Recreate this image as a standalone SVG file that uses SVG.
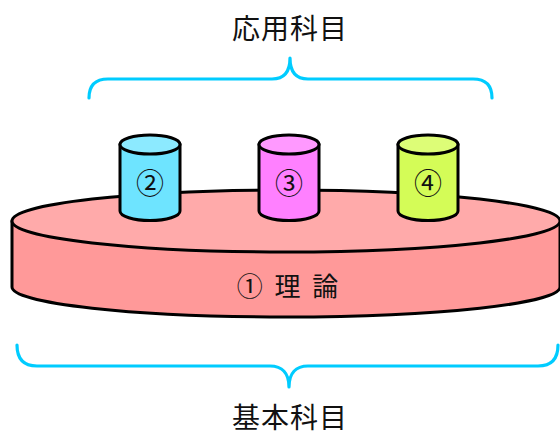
<svg xmlns="http://www.w3.org/2000/svg" width="560" height="438" viewBox="0 0 560 438">
  <style>
    .outline { stroke: #000; stroke-width: 3; stroke-linejoin: round; }
    .brace { fill: none; stroke: #00ccff; stroke-width: 3.2; stroke-linecap: round; stroke-linejoin: round; }
    .label { font-family: "Noto Sans CJK JP", "DejaVu Sans", sans-serif; fill: #111; text-anchor: middle; }
  </style>
  <rect width="560" height="438" fill="#fff"/>

  <!-- connectors: the two curly braces -->
  <g id="connectors">
    <path class="brace" d="M89,98 C89,86 95,79 108,79 L272,79 C284,79 290,72 290,58 C290,72 296,79 308,79 L473,79 C486,79 492,86 492,98"/>
    <path class="brace" d="M17,345 C17,358 23,366 37,366 L270,366 C282,366 289,373 289,387 C289,373 296,366 308,366 L538,366 C552,366 558,358 558,345"/>
  </g>

  <!-- base disk: theory -->
  <g id="theory">
    <path class="outline" fill="#ff9999" d="M12,221 L12,287 A274,30 0 0 0 560,287 L560,221 Z"/>
    <ellipse class="outline" cx="286" cy="221" rx="274" ry="31" fill="#ffaaaa"/>
    <text class="label" x="289" y="296" font-size="26" letter-spacing="3">① 理 論</text>
  </g>

  <!-- applied subjects: three small cylinders -->
  <g id="applied-2">
    <path class="outline" fill="#6ee4ff" d="M120,144 L120,211 A30,9.5 0 0 0 180,211 L180,144 Z"/>
    <ellipse class="outline" cx="150" cy="144.5" rx="30" ry="9.5" fill="#8ceaff"/>
    <text class="label" x="150" y="194" font-size="28">②</text>
  </g>
  <g id="applied-3">
    <path class="outline" fill="#ff80ff" d="M259,144 L259,211 A30,9.5 0 0 0 319,211 L319,144 Z"/>
    <ellipse class="outline" cx="289" cy="144.5" rx="30" ry="9.5" fill="#ff99ff"/>
    <text class="label" x="289" y="194" font-size="28">③</text>
  </g>
  <g id="applied-4">
    <path class="outline" fill="#d4fc57" d="M398,144 L398,211 A30,9.5 0 0 0 458,211 L458,144 Z"/>
    <ellipse class="outline" cx="428" cy="144.5" rx="30" ry="9.5" fill="#ddfd77"/>
    <text class="label" x="428" y="194" font-size="28">④</text>
  </g>

  <!-- group titles -->
  <g id="title-applied">
    <text class="label" x="290" y="39" font-size="28" letter-spacing="1">応用科目</text>
  </g>
  <g id="title-basic">
    <text class="label" x="290" y="428" font-size="28" letter-spacing="1">基本科目</text>
  </g>
</svg>
